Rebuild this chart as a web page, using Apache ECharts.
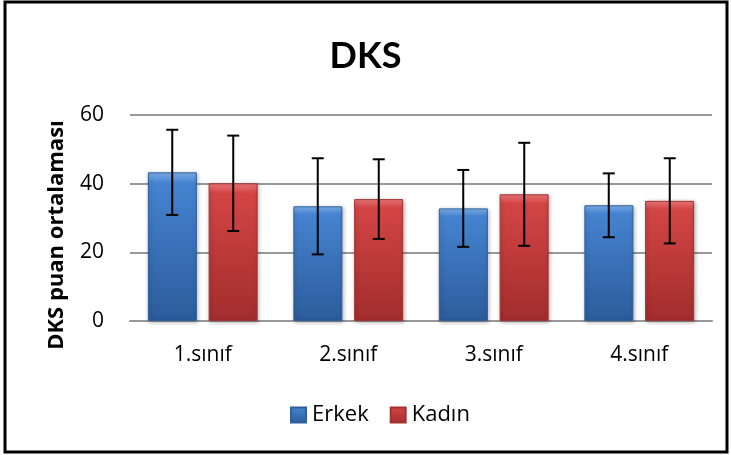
<!DOCTYPE html>
<html>
<head>
<meta charset="utf-8">
<script src="https://cdn.jsdelivr.net/npm/echarts@6/dist/echarts.min.js"></script>
<style>
html,body{margin:0;padding:0;background:#fff;}
#main{width:731px;height:455px;}
</style>
</head>
<body>
<div id="main"></div>
<script>
var categories = ['1.sınıf', '2.sınıf', '3.sınıf', '4.sınıf'];
var erkek = [43.3, 33.4, 32.8, 33.7];
var erkekSd = [12.4, 14.0, 11.2, 9.3];
var kadin = [40.1, 35.5, 36.9, 35.0];
var kadinSd = [13.9, 11.6, 15.0, 12.4];
var yTicks = [0, 20, 40, 60];

var font = '"Open Sans", Lato, sans-serif';

function errData(means, sds) {
	var out = [];
	for (var i = 0; i < means.length; i++) {
		out.push([i, means[i] - sds[i], means[i] + sds[i]]);
	}
	return out;
}

// error bars on top of the bars, shifted to each bar's centre
function errSeries(name, means, sds, offset) {
	return {
		name: name,
		type: 'custom',
		z: 10,
		silent: true,
		data: errData(means, sds),
		renderItem: function (params, api) {
			var lo = api.coord([api.value(0), api.value(1)]);
			var hi = api.coord([api.value(0), api.value(2)]);
			var x = lo[0] + offset;
			var cap = 6;
			var st = { stroke: '#000', lineWidth: 2 };
			return {
				type: 'group',
				children: [
					{ type: 'line', shape: { x1: x, y1: lo[1], x2: x, y2: hi[1] }, style: st },
					{ type: 'line', shape: { x1: x - cap, y1: lo[1], x2: x + cap, y2: lo[1] }, style: st },
					{ type: 'line', shape: { x1: x - cap, y1: hi[1], x2: x + cap, y2: hi[1] }, style: st }
				]
			};
		}
	};
}

function grad(top, mid, bottom) {
	return new echarts.graphic.LinearGradient(0, 0, 0, 1, [
		{ offset: 0, color: top },
		{ offset: 0.07, color: mid },
		{ offset: 1, color: bottom }
	]);
}

var option = {
	animation: false,
	title: {
		text: 'DKS',
		left: 'center',
		top: 33,
		textStyle: { fontFamily: 'Lato, sans-serif', fontSize: 36, fontWeight: 'bold', color: '#000' }
	},
	legend: {
		top: 399,
		left: 285,
		icon: 'rect',
		itemWidth: 15,
		itemHeight: 15,
		itemGap: 21,
		data: ['Erkek', 'Kadın'],
		textStyle: { fontFamily: font, fontSize: 22, color: '#000', padding: [0, 0, 0, 1] }
	},
	graphic: [{
		type: 'rect',
		shape: { x: 5, y: 2, width: 722, height: 450 },
		style: { fill: 'none', stroke: '#000', lineWidth: 3 },
		z: 100
	}, {
		type: 'text',
		x: 57,
		y: 235,
		rotation: Math.PI / 2,
		style: {
			text: 'DKS puan ortalaması',
			fontFamily: font,
			fontSize: 22,
			fontWeight: 'bold',
			fill: '#000',
			align: 'center',
			verticalAlign: 'middle'
		}
	}],
	grid: { left: 130, right: 19, top: 115, bottom: 134 },
	xAxis: {
		type: 'category',
		data: categories,
		axisLine: { lineStyle: { color: '#999', width: 2 } },
		axisTick: { show: false },
		axisLabel: { fontFamily: font, fontSize: 21, color: '#000', margin: 24 }
	},
	yAxis: {
		type: 'value',
		min: 0,
		max: 60,
		interval: 20,
		axisLine: { show: false },
		axisTick: { show: false },
		axisLabel: {
			fontFamily: font, fontSize: 21, color: '#000', margin: 26,
			formatter: function (v) { return yTicks.indexOf(v) >= 0 ? String(v) : ''; }
		},
		splitLine: { lineStyle: { color: '#999', width: 2 } }
	},
	series: [
		{
			name: 'Erkek',
			type: 'bar',
			barWidth: 49,
			barGap: '24%',
			data: erkek,
			itemStyle: {
				color: grad('#80b4ef', '#4583d0', '#2c5c9c'),
				borderColor: '#2f5f9c',
				borderWidth: 1,
				shadowColor: 'rgba(0,0,0,0.3)',
				shadowBlur: 4,
				shadowOffsetX: 1,
				shadowOffsetY: 1
			}
		},
		{
			name: 'Kadın',
			type: 'bar',
			barWidth: 49,
			data: kadin,
			itemStyle: {
				color: grad('#f07b7b', '#d34545', '#a32d2d'),
				borderColor: '#a33232',
				borderWidth: 1,
				shadowColor: 'rgba(0,0,0,0.3)',
				shadowBlur: 4,
				shadowOffsetX: 1,
				shadowOffsetY: 1
			}
		},
		errSeries('ErkekErr', erkek, erkekSd, -30.5),
		errSeries('KadinErr', kadin, kadinSd, 30.5)
	]
};

var chart = echarts.init(document.getElementById('main'));
chart.setOption(option);
</script>
</body>
</html>
